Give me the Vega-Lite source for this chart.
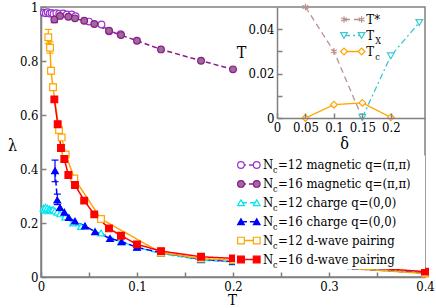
{
"$schema": "https://vega.github.io/schema/vega-lite/v6.json",
"width": 384, "height": 270,
"autosize": {"type": "none"},
"padding": {"left": 41, "top": 7, "right": 11, "bottom": 31},
"background": "white",
"config": {
  "view": {"stroke": "#808080", "strokeWidth": 1.5},
  "font": "DejaVu Serif Condensed, DejaVu Serif",
  "text": {"font": "DejaVu Serif Condensed, DejaVu Serif"},
  "legend": {"disable": true},
  "axis": {"grid": false, "domainColor": "#808080", "domainWidth": 1.5, "tickColor": "#808080", "tickWidth": 1.5, "tickSize": -5, "labelPadding": 8, "labelFont": "DejaVu Serif Condensed, DejaVu Serif", "labelFontSize": 13, "labelColor": "black", "titleFont": "DejaVu Serif Condensed, DejaVu Serif", "titleFontWeight": "normal", "titleFontSize": 16, "titleColor": "black", "labelOverlap": false, "labelFlush": false, "labelBound": false}
},
"datasets": {
  "main": [
    {"s":"m12","T":0.003,"v":0.979},{"s":"m12","T":0.005,"v":0.977},{"s":"m12","T":0.007,"v":0.981},{"s":"m12","T":0.009,"v":0.976},{"s":"m12","T":0.011,"v":0.978},{"s":"m12","T":0.013,"v":0.974},{"s":"m12","T":0.016,"v":0.977},{"s":"m12","T":0.019,"v":0.975},{"s":"m12","T":0.023,"v":0.976},{"s":"m12","T":0.027,"v":0.972},{"s":"m12","T":0.032,"v":0.972},{"s":"m12","T":0.036,"v":0.966},{"s":"m12","T":0.05,"v":0.946},{"s":"m12","T":0.063,"v":0.935},{"s":"m12","T":0.071,"v":0.91},{"s":"m12","T":0.083,"v":0.899},
    {"s":"m16","T":0.0139,"v":0.954,"lo":0.942,"hi":0.966},{"s":"m16","T":0.0198,"v":0.967},{"s":"m16","T":0.0285,"v":0.964},{"s":"m16","T":0.0354,"v":0.958},{"s":"m16","T":0.045,"v":0.949},{"s":"m16","T":0.0555,"v":0.937},{"s":"m16","T":0.0708,"v":0.912},{"s":"m16","T":0.0833,"v":0.896},{"s":"m16","T":0.1,"v":0.875},{"s":"m16","T":0.125,"v":0.843},{"s":"m16","T":0.1667,"v":0.801},{"s":"m16","T":0.2,"v":0.769},
    {"s":"c12","T":0.0025,"v":0.255},{"s":"c12","T":0.0035,"v":0.25},{"s":"c12","T":0.0045,"v":0.258},{"s":"c12","T":0.0055,"v":0.247},{"s":"c12","T":0.0065,"v":0.255},{"s":"c12","T":0.0075,"v":0.245},{"s":"c12","T":0.0085,"v":0.252},{"s":"c12","T":0.0095,"v":0.249},{"s":"c12","T":0.011,"v":0.247},{"s":"c12","T":0.0125,"v":0.25},{"s":"c12","T":0.0145,"v":0.245},{"s":"c12","T":0.017,"v":0.24},{"s":"c12","T":0.02,"v":0.234},{"s":"c12","T":0.025,"v":0.222},{"s":"c12","T":0.0333,"v":0.2},{"s":"c12","T":0.0417,"v":0.187},{"s":"c12","T":0.0625,"v":0.163},{"s":"c12","T":0.0833,"v":0.131},{"s":"c12","T":0.1,"v":0.11},{"s":"c12","T":0.125,"v":0.087},{"s":"c12","T":0.1667,"v":0.063},{"s":"c12","T":0.2,"v":0.056},{"s":"c12","T":0.4,"v":0.016},
    {"s":"c16","T":0.0146,"v":0.394,"lo":0.353,"hi":0.433},{"s":"c16","T":0.017,"v":0.285,"lo":0.268,"hi":0.307},{"s":"c16","T":0.0198,"v":0.257},{"s":"c16","T":0.0243,"v":0.24},{"s":"c16","T":0.029,"v":0.22},{"s":"c16","T":0.0354,"v":0.207},{"s":"c16","T":0.0458,"v":0.189},{"s":"c16","T":0.0563,"v":0.168},{"s":"c16","T":0.0719,"v":0.143},{"s":"c16","T":0.084,"v":0.131},{"s":"c16","T":0.1,"v":0.11},{"s":"c16","T":0.125,"v":0.09},{"s":"c16","T":0.1667,"v":0.066},{"s":"c16","T":0.2,"v":0.057},{"s":"c16","T":0.4,"v":0.015},
    {"s":"d12","T":0.0076,"v":0.888,"lo":0.865,"hi":0.917},{"s":"d12","T":0.0094,"v":0.849,"lo":0.829,"hi":0.871},{"s":"d12","T":0.0104,"v":0.764,"lo":0.752,"hi":0.776},{"s":"d12","T":0.0125,"v":0.703,"lo":0.692,"hi":0.714},{"s":"d12","T":0.0188,"v":0.544},{"s":"d12","T":0.0215,"v":0.517},{"s":"d12","T":0.0257,"v":0.454},{"s":"d12","T":0.0347,"v":0.365},{"s":"d12","T":0.0625,"v":0.215},{"s":"d12","T":0.125,"v":0.09},{"s":"d12","T":0.1667,"v":0.068},{"s":"d12","T":0.2,"v":0.062},{"s":"d12","T":0.4,"v":0.013},
    {"s":"d16","T":0.0139,"v":0.658},{"s":"d16","T":0.0174,"v":0.566},{"s":"d16","T":0.0208,"v":0.478},{"s":"d16","T":0.0243,"v":0.437},{"s":"d16","T":0.0285,"v":0.378},{"s":"d16","T":0.0354,"v":0.341},{"s":"d16","T":0.045,"v":0.283},{"s":"d16","T":0.0555,"v":0.232},{"s":"d16","T":0.0708,"v":0.18},{"s":"d16","T":0.0833,"v":0.153},{"s":"d16","T":0.1,"v":0.121},{"s":"d16","T":0.125,"v":0.096},{"s":"d16","T":0.1667,"v":0.075},{"s":"d16","T":0.2,"v":0.069},{"s":"d16","T":0.4,"v":0.02}
  ],
  "inset": [
    {"s":"ts","d":0.05,"v":0.05},{"s":"ts","d":0.1,"v":0.03},{"s":"ts","d":0.149,"v":0.0005},
    {"s":"tx","d":0.15,"v":0.0003},{"s":"tx","d":0.2,"v":0.028},{"s":"tx","d":0.25,"v":0.043},
    {"s":"tc","d":0.05,"v":0.0},{"s":"tc","d":0.1,"v":0.006},{"s":"tc","d":0.15,"v":0.0068},{"s":"tc","d":0.2,"v":0.0003}
  ],
  "leg": [
    {"s":"m12","a":"N","b":"c","c":"=12 magnetic q=(π,π)"},
    {"s":"m16","a":"N","b":"c","c":"=16 magnetic q=(π,π)"},
    {"s":"c12","a":"N","b":"c","c":"=12 charge q=(0,0)"},
    {"s":"c16","a":"N","b":"c","c":"=16 charge q=(0,0)"},
    {"s":"d12","a":"N","b":"c","c":"=12 d-wave pairing"},
    {"s":"d16","a":"N","b":"c","c":"=16 d-wave pairing"}
  ],
  "ileg": [
    {"s":"ts","a":"T*","b":""},
    {"s":"tx","a":"T","b":"X"},
    {"s":"tc","a":"T","b":"c"}
  ],
  "blank": [{"k": 1}]
},
"resolve": {"scale": {"x": "independent", "y": "independent"}, "axis": {"x": "independent", "y": "independent"}},
"layer": [
  {
    "data": {"name": "main"},
    "layer": [
      {"mark": {"type": "line", "strokeWidth": 1.5},
       "encoding": {
         "x": {"field": "T", "type": "quantitative", "scale": {"domain": [0, 0.4]},
               "axis": {"orient": "bottom", "values": [0,0.05,0.1,0.15,0.2,0.25,0.3,0.35,0.4], "labelExpr": "round(datum.value*20) % 2 == 0 ? format(datum.value, '~g') : ''", "title": "T", "titleFontSize": 15, "titleX": 191, "titleY": 27, "titleBaseline": "alphabetic", "titleAlign": "center"}},
         "y": {"field": "v", "type": "quantitative", "scale": {"domain": [0, 1]},
               "axis": {"orient": "left", "values": [0,0.1,0.2,0.3,0.4,0.5,0.6,0.7,0.8,0.9,1], "labelExpr": "round(datum.value*10) % 2 == 0 ? format(datum.value, '~g') : ''", "title": "λ", "titleAngle": 0, "titleX": -29, "titleY": 138, "titleBaseline": "middle", "titleAlign": "center"}},
         "stroke": {"field": "s", "type": "nominal", "legend": null, "scale": {"domain": ["m12","m16","c12","c16","d12","d16","ts","tx","tc"], "range": ["#9932cc","#8b1a8b","#00e5ee","#0000ff","#ffa500","#ff0000","#bc8f8f","#40c8d0","#ffa500"]}},
         "strokeDash": {"field": "s", "type": "nominal", "legend": null, "scale": {"domain": ["m12","m16","c12","c16","d12","d16","ts","tx","tc"], "range": [[5,3],[5,3],[6,3],[6,3],[1,0],[1,0],[6,4],[6,3,2,3],[1,0]]}}
       }},
      {"transform": [{"filter": "isValid(datum.lo)"}],
       "mark": {"type": "rule", "strokeWidth": 1.2},
       "encoding": {
         "x": {"field": "T", "type": "quantitative"},
         "y": {"field": "lo", "type": "quantitative"},
         "y2": {"field": "hi"},
         "stroke": {"field": "s", "type": "nominal", "legend": null}
       }},
      {"transform": [{"filter": "isValid(datum.lo)"}],
       "mark": {"type": "point", "shape": "M-1,0L1,0", "size": 49, "strokeWidth": 1.2, "filled": false, "opacity": 1},
       "encoding": {
         "x": {"field": "T", "type": "quantitative"},
         "y": {"field": "lo", "type": "quantitative"},
         "stroke": {"field": "s", "type": "nominal", "legend": null}
       }},
      {"transform": [{"filter": "isValid(datum.lo)"}],
       "mark": {"type": "point", "shape": "M-1,0L1,0", "size": 49, "strokeWidth": 1.2, "filled": false, "opacity": 1},
       "encoding": {
         "x": {"field": "T", "type": "quantitative"},
         "y": {"field": "hi", "type": "quantitative"},
         "stroke": {"field": "s", "type": "nominal", "legend": null}
       }},
      {"mark": {"type": "point", "filled": true, "opacity": 1, "strokeWidth": 1.2, "size": 45},
       "encoding": {
         "x": {"field": "T", "type": "quantitative"},
         "y": {"field": "v", "type": "quantitative"},
         "stroke": {"field": "s", "type": "nominal", "legend": null},
         "fill": {"field": "s", "type": "nominal", "legend": null, "scale": {"domain": ["m12","m16","c12","c16","d12","d16","ts","tx","tc"], "range": ["white","#9f6b98","white","#0000ff","white","#ff0000","white","white","white"]}},
         "shape": {"field": "s", "type": "nominal", "legend": null, "scale": {"domain": ["m12","m16","c12","c16","d12","d16","ts","tx","tc"], "range": ["circle","circle","triangle-up","triangle-up","square","square","M0,-1L0,1M-0.87,-0.5L0.87,0.5M-0.87,0.5L0.87,-0.5","triangle-down","diamond"]}}
       }},
      {"data": {"name": "blank"},
       "mark": {"type": "rect", "fill": "white"},
       "encoding": {"x": {"datum": 0.2021, "type": "quantitative"}, "x2": {"datum": 0.4}, "y": {"datum": 0.03, "type": "quantitative"}, "y2": {"datum": 0.45}}}
    ]
  },
  {
    "data": {"name": "leg"},
    "encoding": {"y": {"field": "s", "type": "nominal", "axis": null, "scale": {"type": "point", "domain": ["m12","m16","c12","c16","d12","d16"], "range": [158, 252.5], "padding": 0}}},
    "layer": [
      {"mark": {"type": "rule", "strokeWidth": 1.5},
       "encoding": {"x": {"datum": 0.2083, "type": "quantitative", "scale": {"domain": [0, 0.4]}, "axis": null}, "x2": {"datum": 0.2247},
         "stroke": {"field": "s", "type": "nominal", "legend": null}, "strokeDash": {"field": "s", "type": "nominal", "legend": null}}},
      {"mark": {"type": "point", "filled": true, "opacity": 1, "strokeWidth": 1.2, "size": 45},
       "encoding": {"x": {"datum": 0.2083, "type": "quantitative"},
         "stroke": {"field": "s", "type": "nominal", "legend": null}, "fill": {"field": "s", "type": "nominal", "legend": null}, "shape": {"field": "s", "type": "nominal", "legend": null}}},
      {"mark": {"type": "point", "filled": true, "opacity": 1, "strokeWidth": 1.2, "size": 45},
       "encoding": {"x": {"datum": 0.2247, "type": "quantitative"},
         "stroke": {"field": "s", "type": "nominal", "legend": null}, "fill": {"field": "s", "type": "nominal", "legend": null}, "shape": {"field": "s", "type": "nominal", "legend": null}}},
      {"mark": {"type": "text", "align": "left", "baseline": "middle", "fontSize": 13, "color": "black"},
       "encoding": {"x": {"datum": 0.2313, "type": "quantitative"}, "text": {"field": "a"}}},
      {"mark": {"type": "text", "align": "left", "baseline": "middle", "fontSize": 9, "color": "black", "dx": 10, "dy": 5},
       "encoding": {"x": {"datum": 0.2313, "type": "quantitative"}, "text": {"field": "b"}}},
      {"mark": {"type": "text", "align": "left", "baseline": "middle", "fontSize": 13, "color": "black", "dx": 15},
       "encoding": {"x": {"datum": 0.2313, "type": "quantitative"}, "text": {"field": "c"}}}
    ]
  },
  {
    "data": {"name": "inset"},
    "layer": [
      {"mark": {"type": "line", "strokeWidth": 1.3},
       "encoding": {
         "x": {"field": "d", "type": "quantitative", "scale": {"domain": [0, 0.25], "range": [236, 384]},
               "axis": {"orient": "bottom", "offset": -159, "zindex": 1, "values": [0,0.05,0.1,0.15,0.2], "labelExpr": "format(datum.value, '~g')", "title": "δ", "titleX": 303, "titleY": 25, "titleBaseline": "middle", "titleAlign": "center"}},
         "y": {"field": "v", "type": "quantitative", "scale": {"domain": [0, 0.05], "range": [111, 0]},
               "axis": {"orient": "left", "offset": -236, "zindex": 1, "values": [0,0.01,0.02,0.03,0.04], "labelExpr": "round(datum.value*100) % 2 == 0 ? format(datum.value, '~g') : ''", "title": "T", "titleAngle": 0, "titleX": -36, "titleY": 45, "titleBaseline": "middle", "titleAlign": "center"}},
         "stroke": {"field": "s", "type": "nominal", "legend": null},
         "strokeDash": {"field": "s", "type": "nominal", "legend": null}
       }},
      {"mark": {"type": "point", "filled": true, "opacity": 1, "strokeWidth": 1.2, "size": 45},
       "encoding": {
         "x": {"field": "d", "type": "quantitative"},
         "y": {"field": "v", "type": "quantitative"},
         "stroke": {"field": "s", "type": "nominal", "legend": null},
         "fill": {"field": "s", "type": "nominal", "legend": null},
         "shape": {"field": "s", "type": "nominal", "legend": null}
       }}
    ]
  },
  {
    "data": {"name": "ileg"},
    "encoding": {"y": {"field": "s", "type": "nominal", "axis": null, "scale": {"type": "point", "domain": ["ts","tx","tc"], "range": [12.5, 44.5], "padding": 0}}},
    "layer": [
      {"mark": {"type": "rule", "strokeWidth": 1.3},
       "encoding": {"x": {"datum": 0.1177, "type": "quantitative", "scale": {"domain": [0, 0.25], "range": [236, 384]}, "axis": null}, "x2": {"datum": 0.1486},
         "stroke": {"field": "s", "type": "nominal", "legend": null}, "strokeDash": {"field": "s", "type": "nominal", "legend": null}}},
      {"mark": {"type": "point", "filled": true, "opacity": 1, "strokeWidth": 1.2, "size": 45},
       "encoding": {"x": {"datum": 0.1177, "type": "quantitative"},
         "stroke": {"field": "s", "type": "nominal", "legend": null}, "fill": {"field": "s", "type": "nominal", "legend": null}, "shape": {"field": "s", "type": "nominal", "legend": null}}},
      {"mark": {"type": "point", "filled": true, "opacity": 1, "strokeWidth": 1.2, "size": 45},
       "encoding": {"x": {"datum": 0.1486, "type": "quantitative"},
         "stroke": {"field": "s", "type": "nominal", "legend": null}, "fill": {"field": "s", "type": "nominal", "legend": null}, "shape": {"field": "s", "type": "nominal", "legend": null}}},
      {"mark": {"type": "text", "align": "left", "baseline": "middle", "fontSize": 13, "color": "black"},
       "encoding": {"x": {"datum": 0.157, "type": "quantitative"}, "text": {"field": "a"}}},
      {"mark": {"type": "text", "align": "left", "baseline": "middle", "fontSize": 9, "color": "black", "dx": 9, "dy": 5},
       "encoding": {"x": {"datum": 0.157, "type": "quantitative"}, "text": {"field": "b"}}}
    ]
  }
]
}
